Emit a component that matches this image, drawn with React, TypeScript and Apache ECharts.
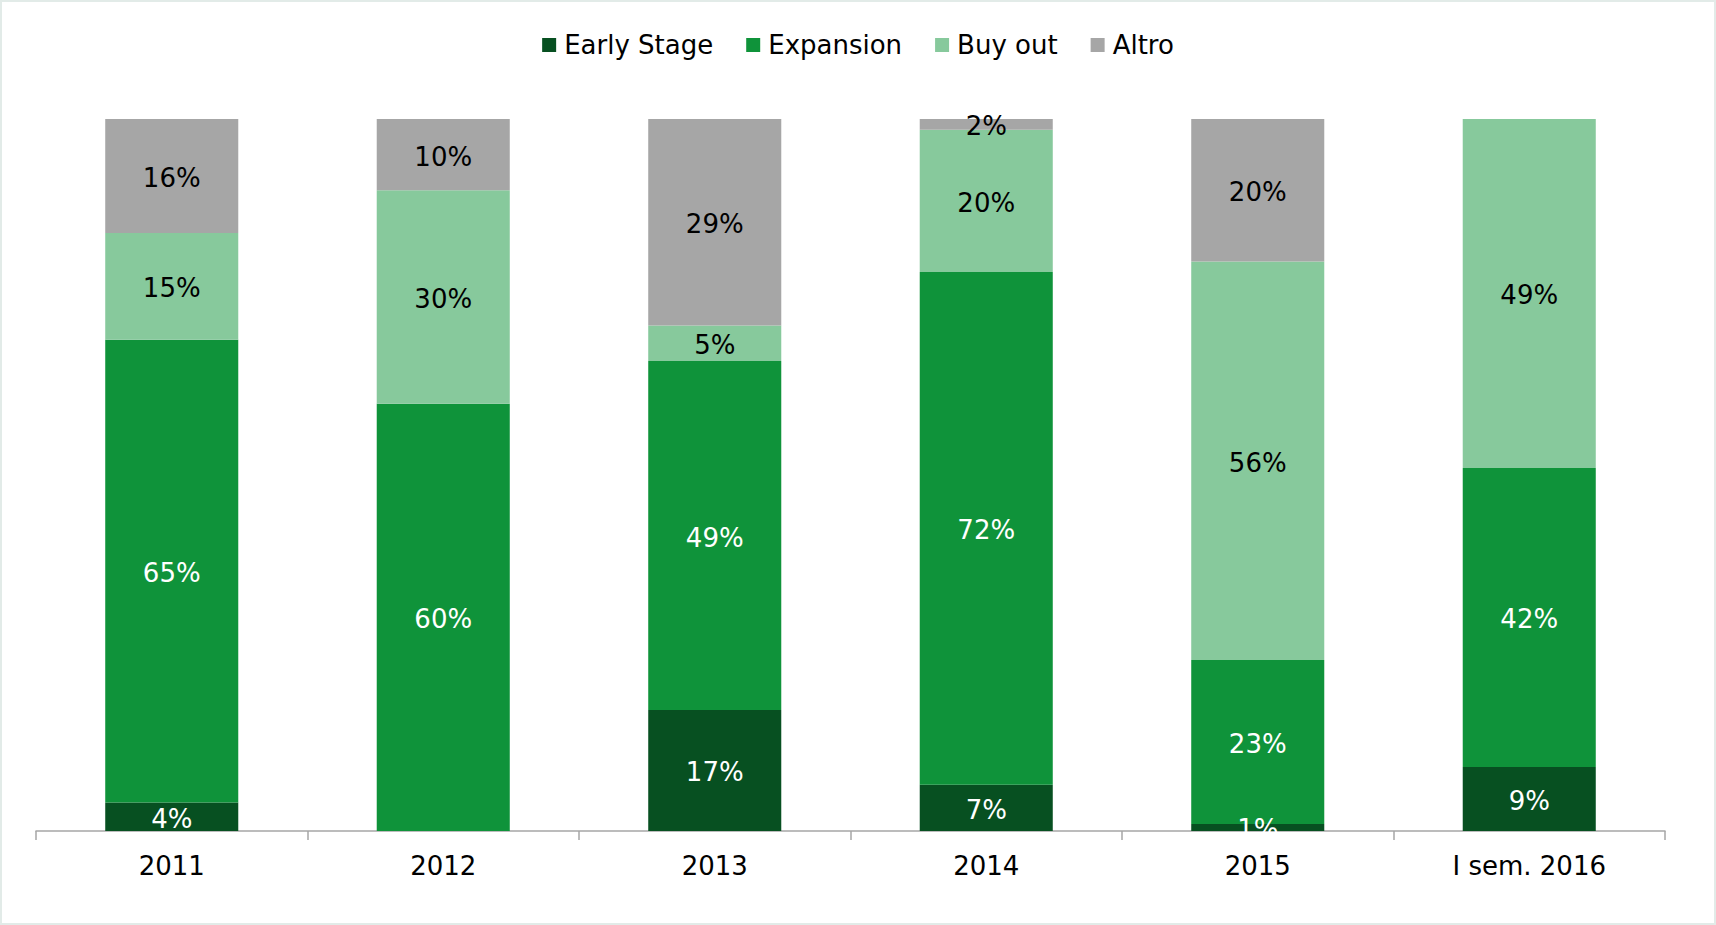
import React, { useEffect, useRef } from "react";
import * as echarts from "echarts";

const categories = ["2011", "2012", "2013", "2014", "2015", "I sem. 2016"];
const earlyStage = [4, 0, 17, 6.5, 1, 9];
const expansion = [65, 60, 49, 72, 23, 42];
const buyOut = [15, 30, 5, 20, 56, 49];
const altro = [16, 10, 29, 1.5, 20, 0];

const FONT = "DejaVu Sans";

export default function App() {
  const ref = useRef<HTMLDivElement>(null);
  useEffect(() => {
    document.body.style.margin = "0";
    const chart = echarts.init(ref.current!, null, { renderer: "svg" });
    const mk = (name: string, data: number[], color: string, labelColor: string) => ({
      name,
      type: "bar",
      stack: "total",
      data,
      barWidth: "49%",
      itemStyle: { color },
      label: {
        show: true,
        position: "inside",
        offset: [0, 2],
        color: labelColor,
        fontFamily: FONT,
        fontSize: 26,
        formatter: (p: any) => (p.value ? Math.round(p.value) + "%" : ""),
      },
    });
    chart.setOption({
      animation: false,
      backgroundColor: "#ffffff",
      textStyle: { fontFamily: FONT },
      graphic: [
        {
          type: "rect",
          shape: { x: 1, y: 1, width: 1714, height: 923 },
          style: { fill: "none", stroke: "#e2ebe8", lineWidth: 2 },
          silent: true,
        },
      ],
      legend: {
        top: 27,
        left: "center",
        icon: "rect",
        itemWidth: 14,
        itemHeight: 14,
        itemGap: 33,
        textStyle: { fontFamily: FONT, fontSize: 26, color: "#000", padding: [0, 0, 0, 3] },
        data: ["Early Stage", "Expansion", "Buy out", "Altro"],
      },
      grid: { left: 36, right: 51, top: 119, bottom: 94 },
      xAxis: {
        type: "category",
        data: categories,
        axisLine: { lineStyle: { color: "#a6a6a6", width: 1.5 } },
        axisTick: { show: true, length: 9, lineStyle: { color: "#a6a6a6", width: 1.5 } },
        axisLabel: { color: "#000", fontFamily: FONT, fontSize: 26, margin: 22 },
      },
      yAxis: {
        type: "value",
        min: 0,
        max: 100,
        show: false,
        splitLine: { show: false },
      },
      series: [
        mk("Early Stage", earlyStage, "#075021", "#ffffff"),
        mk("Expansion", expansion, "#0f933a", "#ffffff"),
        mk("Buy out", buyOut, "#87c99c", "#000000"),
        mk("Altro", altro, "#a6a6a6", "#000000"),
      ],
    });
    return () => chart.dispose();
  }, []);
  return (
    <div
      ref={ref}
      style={{ position: "fixed", left: 0, top: 0, width: 1716, height: 925 }}
    />
  );
}
